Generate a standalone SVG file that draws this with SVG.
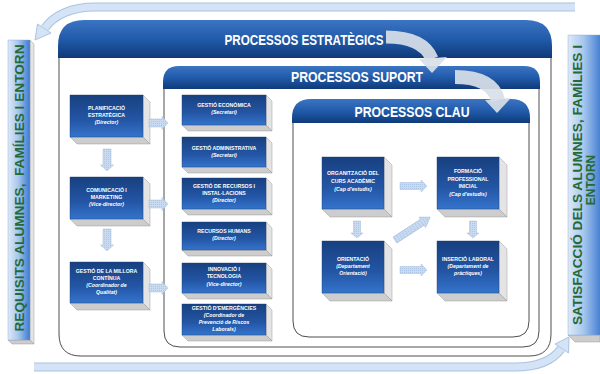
<svg xmlns="http://www.w3.org/2000/svg" width="600" height="374" viewBox="0 0 600 374">
  <style>
    .frame { fill: #ffffff; stroke: #3a3a3a; stroke-width: 0.9; }
    .hdr { fill: url(#hdrGrad); }
    .hd { font-family: "Liberation Sans", Arial, sans-serif; font-weight: bold; font-size: 14px; fill: #ffffff; text-anchor: middle; }
    .face { fill: url(#boxGrad); stroke: #1b3d73; stroke-width: 0.4; }
    .side { fill: #e4e4e4; stroke: #8a8a8a; stroke-width: 0.4; }
    .bot { fill: #cdcdcd; stroke: #8a8a8a; stroke-width: 0.4; }
    .bt { font-family: "Liberation Sans", Arial, sans-serif; font-weight: bold; font-size: 5.2px; fill: #ffffff; text-anchor: middle; }
    .bi { font-style: italic; }
    .side-txt { font-family: "Liberation Sans", Arial, sans-serif; font-weight: bold; font-size: 12px; fill: #236a34; text-anchor: middle; }
    .sarrow { fill: url(#dots); stroke: #a3bddd; stroke-width: 0.5; }
    .band-out { fill: none; stroke: #a9c4e4; stroke-width: 9; }
    .band-in { fill: none; stroke: #d4e3f5; stroke-width: 7; }
    .band-head { fill: #d4e3f5; stroke: #a9c4e4; stroke-width: 1; }
    .big { fill: none; stroke: #d9e0e8; stroke-opacity: 0.92; }
    .big-head { fill: #d9e0e8; fill-opacity: 0.92; }
  </style>
  <defs>
    <linearGradient id="hdrGrad" x1="0" y1="0" x2="0" y2="1">
      <stop offset="0" stop-color="#3a74c2"/>
      <stop offset="0.55" stop-color="#1f58a6"/>
      <stop offset="1" stop-color="#0f3a78"/>
    </linearGradient>
    <linearGradient id="boxGrad" x1="0" y1="0" x2="0" y2="1">
      <stop offset="0" stop-color="#17407f"/>
      <stop offset="0.6" stop-color="#2456a6"/>
      <stop offset="1" stop-color="#3474cc"/>
    </linearGradient>
    <linearGradient id="barGrad" x1="0" y1="0" x2="1" y2="0">
      <stop offset="0" stop-color="#dde9f8"/>
      <stop offset="0.45" stop-color="#a9c8ee"/>
      <stop offset="1" stop-color="#3c7ad0"/>
    </linearGradient>
    <pattern id="dots" width="2" height="2" patternUnits="userSpaceOnUse">
      <rect width="2" height="2" fill="#c9dbf1"/>
      <rect width="1" height="1" fill="#adc6e6"/>
    </pattern>
    <!-- block arrows, pointing right from the origin -->
    <path id="arrS" d="M0,-4 H13 V-6.5 L19,0 L13,6.5 V4 H0 Z"/>
    <path id="arrV" d="M0,-4 H16 V-6.5 L22,0 L16,6.5 V4 H0 Z"/>
    <path id="arrL" d="M0,-3.5 H21 V-6 L27,0 L21,6 V3.5 H0 Z"/>
    <path id="arrD" d="M0,-3.5 H12 V-6 L17,0 L12,6 V3.5 H0 Z"/>
  </defs>

  <!-- outer frame: strategic processes -->
  <g id="estrategics">
    <path class="frame" d="M59,58 V334 Q59,356 81,356 H529 Q551,356 551,334 V58"/>
    <path class="hdr" d="M58,58 V46 Q58,20 84,20 H526 Q552,20 552,46 V58 Z"/>
    <text class="hd" x="304" y="45" textLength="159" lengthAdjust="spacingAndGlyphs">PROCESSOS ESTRATÈGICS</text>
  </g>

  <!-- support processes -->
  <g id="suport">
    <path class="frame" d="M164,89 V331 Q164,347 180,347 H523 Q539,347 539,331 V89"/>
    <path class="hdr" d="M163,89 V82 Q163,66 179,66 H524 Q540,66 540,82 V89 Z"/>
    <text class="hd" x="357" y="82" textLength="132" lengthAdjust="spacingAndGlyphs">PROCESSOS SUPORT</text>
  </g>

  <!-- key processes -->
  <g id="clau">
    <path class="frame" d="M293,123 V321 Q293,337 309,337 H513 Q529,337 529,321 V123"/>
    <path class="hdr" d="M292,123 V118 Q292,99 311,99 H511 Q530,99 530,118 V123 Z"/>
    <text class="hd" x="412" y="117" textLength="115" lengthAdjust="spacingAndGlyphs">PROCESSOS CLAU</text>
  </g>

  <!-- side bars -->
  <g id="requisits">
    <path class="side" d="M30,40 L34,44 L34,344 L30,340 Z"/>
    <path class="bot" d="M8,340 L30,340 L34,344 L12,344 Z"/>
    <rect x="8" y="40" width="22" height="300" fill="url(#barGrad)" stroke="#8aa7cc" stroke-width="0.4"/>
    <text class="side-txt" transform="translate(24,188) rotate(-90)" textLength="287" lengthAdjust="spacingAndGlyphs" xml:space="preserve">REQUISITS ALUMNES,  FAMÍLIES I ENTORN</text>
  </g>

  <g id="satisfaccio">
    <path class="bot" d="M568,335 L600,335 L600,342 L575,342 Z"/>
    <rect x="568" y="35" width="34" height="300" fill="url(#barGrad)" stroke="#8aa7cc" stroke-width="0.4"/>
    <text class="side-txt" font-size="11.5" transform="translate(582,185) rotate(-90)" textLength="280" lengthAdjust="spacingAndGlyphs">SATISFACCIÓ DELS ALUMNES, FAMÍLIES I</text>
    <text class="side-txt" font-size="11.5" transform="translate(595,180) rotate(-90)">ENTORN</text>
  </g>

  <!-- strategic process boxes -->
  <g id="planificacio">
    <path class="side" d="M143,95 L150,102 L150,144 L143,137 Z"/>
    <path class="bot" d="M70,137 L143,137 L150,144 L77,144 Z"/>
    <rect class="face" x="70" y="95" width="73" height="42"/>
    <text class="bt" x="106.5" y="110">PLANIFICACIÓ</text>
    <text class="bt" x="106.5" y="117">ESTRATÈGICA</text>
    <text class="bt bi" x="106.5" y="124">(Director)</text>
  </g>
  <g id="comunicacio">
    <path class="side" d="M143,177 L150,184 L150,226 L143,219 Z"/>
    <path class="bot" d="M70,219 L143,219 L150,226 L77,226 Z"/>
    <rect class="face" x="70" y="177" width="73" height="42"/>
    <text class="bt" x="106.5" y="192">COMUNICACIÓ I</text>
    <text class="bt" x="106.5" y="199">MARKETING</text>
    <text class="bt bi" x="106.5" y="206">(Vice-director)</text>
  </g>
  <g id="millora">
    <path class="side" d="M143,262 L150,269 L150,310 L143,303 Z"/>
    <path class="bot" d="M70,303 L143,303 L150,310 L77,310 Z"/>
    <rect class="face" x="70" y="262" width="73" height="41"/>
    <text class="bt" x="106.5" y="273">GESTIÓ DE LA MILLORA</text>
    <text class="bt" x="106.5" y="280">CONTÍNUA</text>
    <text class="bt bi" x="106.5" y="287">(Coordinador de</text>
    <text class="bt bi" x="106.5" y="294">Qualitat)</text>
  </g>

  <!-- support process boxes -->
  <g id="economica">
    <path class="side" d="M266,95 L272,101 L272,131 L266,125 Z"/>
    <path class="bot" d="M182,125 L266,125 L272,131 L188,131 Z"/>
    <rect class="face" x="182" y="95" width="84" height="30"/>
    <text class="bt" x="224" y="107">GESTIÓ ECONÒMICA</text>
    <text class="bt bi" x="224" y="114">(Secretari)</text>
  </g>
  <g id="administrativa">
    <path class="side" d="M266,137 L272,143 L272,173 L266,167 Z"/>
    <path class="bot" d="M182,167 L266,167 L272,173 L188,173 Z"/>
    <rect class="face" x="182" y="137" width="84" height="30"/>
    <text class="bt" x="224" y="150">GESTIÓ ADMINISTRATIVA</text>
    <text class="bt bi" x="224" y="157">(Secretari)</text>
  </g>
  <g id="recursos">
    <path class="side" d="M266,178 L272,184 L272,215 L266,209 Z"/>
    <path class="bot" d="M182,209 L266,209 L272,215 L188,215 Z"/>
    <rect class="face" x="182" y="178" width="84" height="31"/>
    <text class="bt" x="224" y="188">GESTIÓ DE RECURSOS I</text>
    <text class="bt" x="224" y="195">INSTAL·LACIONS</text>
    <text class="bt bi" x="224" y="202">(Director)</text>
  </g>
  <g id="humans">
    <path class="side" d="M266,222 L272,228 L272,256 L266,250 Z"/>
    <path class="bot" d="M182,250 L266,250 L272,256 L188,256 Z"/>
    <rect class="face" x="182" y="222" width="84" height="28"/>
    <text class="bt" x="224" y="233">RECURSOS HUMANS</text>
    <text class="bt bi" x="224" y="240">(Director)</text>
  </g>
  <g id="innovacio">
    <path class="side" d="M266,263 L272,269 L272,299 L266,293 Z"/>
    <path class="bot" d="M182,293 L266,293 L272,299 L188,299 Z"/>
    <rect class="face" x="182" y="263" width="84" height="30"/>
    <text class="bt" x="224" y="271">INNOVACIÓ I</text>
    <text class="bt" x="224" y="278">TECNOLOGIA</text>
    <text class="bt bi" x="224" y="286">(Vice-director)</text>
  </g>
  <g id="emergencies">
    <path class="side" d="M266,304 L272,310 L272,341 L266,335 Z"/>
    <path class="bot" d="M182,335 L266,335 L272,341 L188,341 Z"/>
    <rect class="face" x="182" y="304" width="84" height="31"/>
    <text class="bt" x="224" y="310">GESTIÓ D'EMERGÈNCIES</text>
    <text class="bt bi" x="224" y="317">(Coordinador de</text>
    <text class="bt bi" x="224" y="324">Prevenció de Riscos</text>
    <text class="bt bi" x="224" y="331">Laborals)</text>
  </g>

  <!-- key process boxes -->
  <g id="organitzacio">
    <path class="side" d="M384,157 L392,165 L392,217 L384,209 Z"/>
    <path class="bot" d="M322,209 L384,209 L392,217 L330,217 Z"/>
    <rect class="face" x="322" y="157" width="62" height="52"/>
    <text class="bt" x="353" y="175">ORGANITZACIÓ DEL</text>
    <text class="bt" x="353" y="183">CURS ACADÈMIC</text>
    <text class="bt bi" x="353" y="191">(Cap d'estudis)</text>
  </g>
  <g id="formacio">
    <path class="side" d="M499,157 L507,165 L507,217 L499,209 Z"/>
    <path class="bot" d="M437,209 L499,209 L507,217 L445,217 Z"/>
    <rect class="face" x="437" y="157" width="62" height="52"/>
    <text class="bt" x="468" y="173">FORMACIÓ</text>
    <text class="bt" x="468" y="181">PROFESSIONAL</text>
    <text class="bt" x="468" y="188">INICIAL</text>
    <text class="bt bi" x="468" y="196">(Cap d'estudis)</text>
  </g>
  <g id="orientacio">
    <path class="side" d="M384,241 L392,249 L392,301 L384,293 Z"/>
    <path class="bot" d="M322,293 L384,293 L392,301 L330,301 Z"/>
    <rect class="face" x="322" y="241" width="62" height="52"/>
    <text class="bt" x="353" y="261">ORIENTACIÓ</text>
    <text class="bt bi" x="353" y="268">(Departament</text>
    <text class="bt bi" x="353" y="275">Orientació)</text>
  </g>
  <g id="insercio">
    <path class="side" d="M499,241 L507,249 L507,301 L499,293 Z"/>
    <path class="bot" d="M437,293 L499,293 L507,301 L445,301 Z"/>
    <rect class="face" x="437" y="241" width="62" height="52"/>
    <text class="bt" x="468" y="261">INSERCIÓ LABORAL</text>
    <text class="bt bi" x="468" y="268">(Departament de</text>
    <text class="bt bi" x="468" y="275">pràctiques)</text>
  </g>

  <!-- connectors -->
  <g id="connectors">
    <!-- feedback bands round the frame -->
    <path class="band-out" d="M575,7 H95 C72,7 54,15 45,28"/>
    <path class="band-in" d="M575,7 H95 C72,7 54,15 45,28"/>
    <polygon class="band-head" points="51,33 37.5,24 35,40"/>
    <path class="band-out" d="M34,367 H515 C538,367 553,360 561,349"/>
    <path class="band-in" d="M34,367 H515 C538,367 553,360 561,349"/>
    <polygon class="band-head" points="568.5,353 555,344 569,337"/>

    <!-- flow between the process layers -->
    <path class="big" stroke-width="13" d="M386,37 C410,37 426,44 432,59"/>
    <polygon class="big-head" points="419,59 447,57 432,73"/>
    <path class="big" stroke-width="14" d="M455,77 C480,77 494,85 498,100"/>
    <polygon class="big-head" points="485,100 511,98 497,113"/>

    <!-- strategic column -->
    <use href="#arrV" class="sarrow" transform="translate(107,149) rotate(90)"/>
    <use href="#arrV" class="sarrow" transform="translate(107,229) rotate(90)"/>
    <use href="#arrS" class="sarrow" transform="translate(149,123)"/>
    <use href="#arrS" class="sarrow" transform="translate(149,204)"/>
    <use href="#arrS" class="sarrow" transform="translate(149,288)"/>

    <!-- key processes -->
    <use href="#arrL" class="sarrow" transform="translate(400,186)"/>
    <use href="#arrL" class="sarrow" transform="translate(400,270)"/>
    <use href="#arrD" class="sarrow" transform="translate(357,221) rotate(90)"/>
    <use href="#arrD" class="sarrow" transform="translate(473,221) rotate(90)"/>
    <use href="#arrL" class="sarrow" transform="translate(395,240) rotate(-33) scale(1.55,1)"/>
  </g>
</svg>
